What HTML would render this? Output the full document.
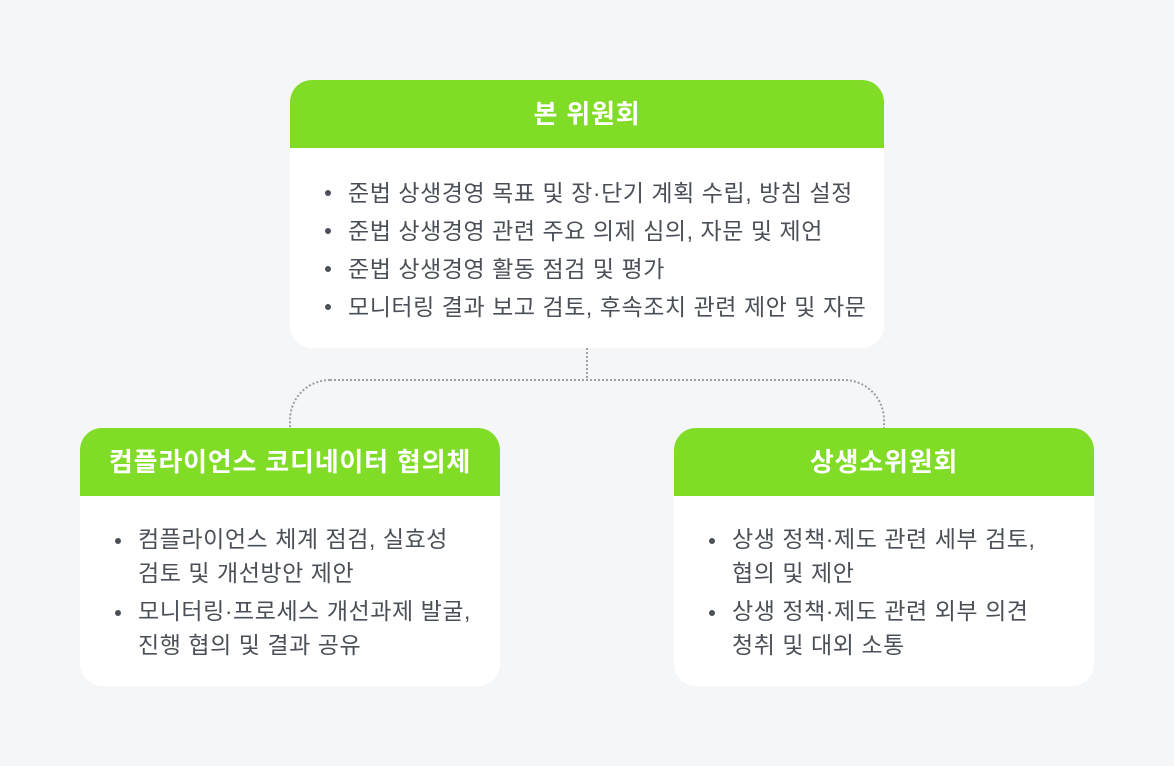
<!DOCTYPE html>
<html><head><meta charset="utf-8"><style>
body{margin:0;width:1174px;height:766px;background:#f4f6f8;position:relative;overflow:hidden;font-family:"Liberation Sans","Noto Sans CJK KR",sans-serif;}
.box{position:absolute;background:#fff;border-radius:22px;overflow:hidden;}
.hd{background:#80dc26;color:#fff;font-weight:bold;font-size:26px;text-align:center;height:68px;line-height:68px;letter-spacing:0.8px;}
ul{margin:0;padding:0;list-style:none;color:#4b5058;font-size:23px;letter-spacing:0.55px;white-space:nowrap;}
li{position:relative;padding-left:28px;}
li:before{content:"";position:absolute;left:5px;top:16px;width:6px;height:6px;border-radius:50%;background:#4b5058;}
</style></head><body>
<svg width="1174" height="766" style="position:absolute;left:0;top:0">
<path d="M587 348 V380 M330 380 H844 A40 40 0 0 1 884 420 V428 M330 380 A40 40 0 0 0 290 420 V428" fill="none" stroke="#9aa0a6" stroke-width="2" stroke-dasharray="2 2"/>
</svg>
<div class="box" style="left:290px;top:80px;width:594px;height:268px">
<div class="hd">본 위원회</div>
<ul style="padding:26px 0 0 30px;line-height:38px">
<li>준법 상생경영 목표 및 장·단기 계획 수립, 방침 설정</li>
<li>준법 상생경영 관련 주요 의제 심의, 자문 및 제언</li>
<li>준법 상생경영 활동 점검 및 평가</li>
<li>모니터링 결과 보고 검토, 후속조치 관련 제안 및 자문</li>
</ul></div>
<div class="box" style="left:80px;top:428px;width:420px;height:258px">
<div class="hd">컴플라이언스 코디네이터 협의체</div>
<ul style="padding:26px 0 0 30px;line-height:34px">
<li style="margin-bottom:4px">컴플라이언스 체계 점검, 실효성<br>검토 및 개선방안 제안</li>
<li>모니터링·프로세스 개선과제 발굴,<br>진행 협의 및 결과 공유</li>
</ul></div>
<div class="box" style="left:674px;top:428px;width:420px;height:258px">
<div class="hd">상생소위원회</div>
<ul style="padding:26px 0 0 30px;line-height:34px">
<li style="margin-bottom:4px">상생 정책·제도 관련 세부 검토,<br>협의 및 제안</li>
<li>상생 정책·제도 관련 외부 의견<br>청취 및 대외 소통</li>
</ul></div>
</body></html>
